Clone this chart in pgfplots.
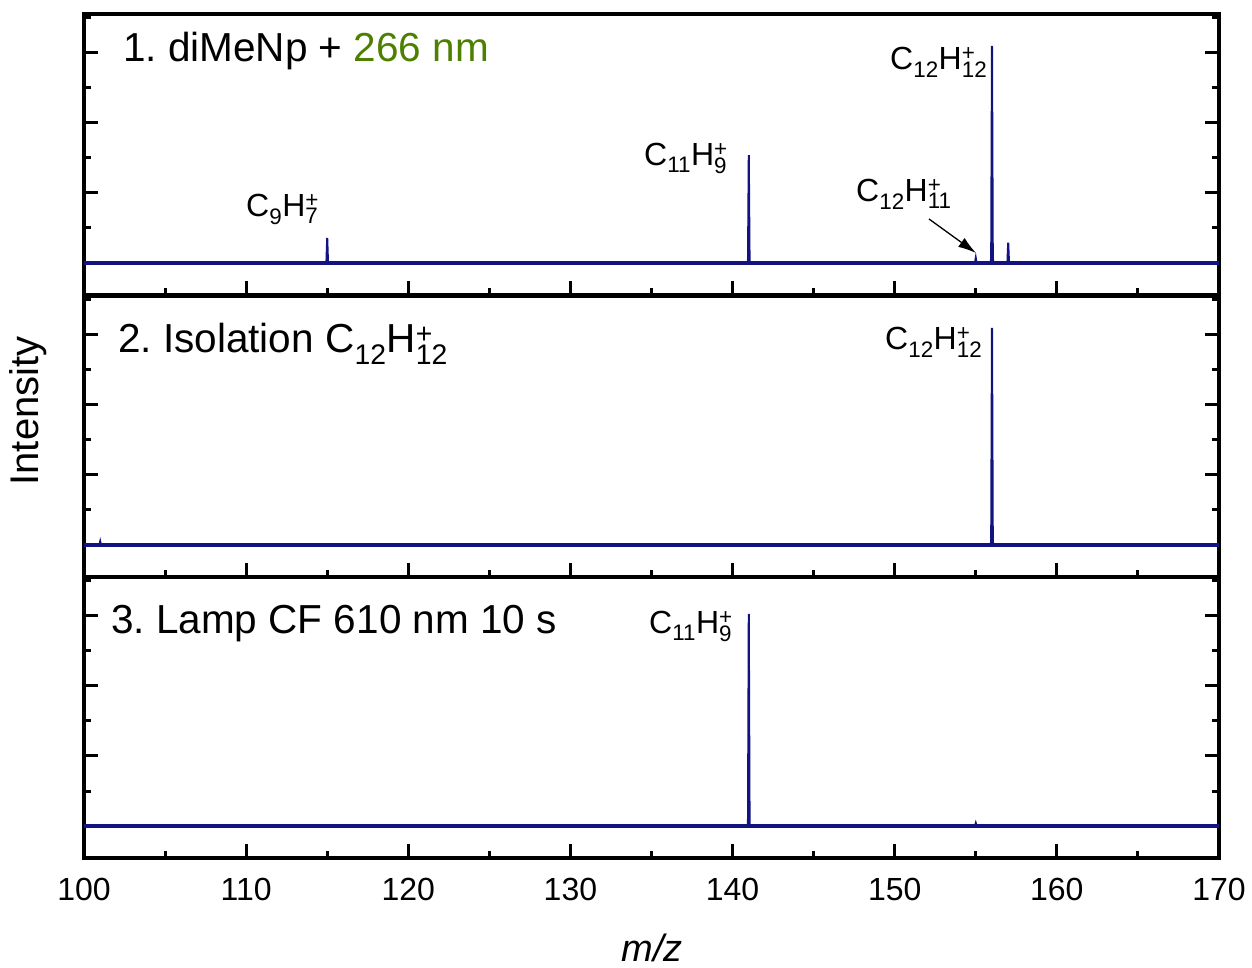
\documentclass[border=0pt]{standalone}
\usepackage{fontspec}
\setmainfont{Liberation Sans}
\usepackage{pgfplots}
\pgfplotsset{compat=1.18}
\usetikzlibrary{arrows.meta}
\frenchspacing
\definecolor{specblue}{RGB}{18,18,128}
\definecolor{grn}{RGB}{77,128,0}
\newcommand{\ionl}[4]{#1\textsubscript{#2}#3\rlap{\textsuperscript{+}}\textsubscript{#4}}
\newcommand{\fs}[1]{\fontsize{#1}{#1}\selectfont}
\pgfplotsset{
  panel/.style={
    scale only axis, width=1135pt, height=281pt,
    xmin=100, xmax=170, ymin=-0.457, ymax=3.557,
    xtick={100,110,...,170}, minor x tick num=1,
    ytick={0,1,2,3}, minor ytick={0.5,1.5,2.5,3.5},
    yticklabels={},
    tick align=inside, xtick pos=left, ytick pos=both,
    major tick length=14pt, minor tick length=7pt,
    major tick style={line width=3pt, black},
    minor tick style={line width=3pt, black},
    axis line style={line width=3.4pt},
    /pgf/number format/assume math mode=true,
    xticklabel style={font=\fs{32}, inner sep=0pt, yshift=-20pt},
    clip=true,
  },
  baseline/.style={color=specblue, line width=3.2pt, mark=none},
  specline/.style={color=specblue, line width=2pt, line join=miter, mark=none},
}
\begin{document}
\begin{tikzpicture}[x=1pt,y=1pt]
\useasboundingbox (0,0) rectangle (1252,968);
% panel 1
\begin{axis}[panel, at={(84pt,673pt)}, anchor=south west, xticklabels={}]
\addplot[baseline] coordinates {(100,0.0) (170,0.0)};
\addplot[specline] coordinates {
(114.95,0.0) (115,0.36) (115.05,0.0) (140.95,0.0) (141,1.54) (141.05,0.0)
(154.95,0.0) (155,0.07) (155.05,0.0) (155.9,0.0) (155.95,0.06) (156,3.1) (156.05,0.06) (156.1,0.0)
(156.95,0.0) (157,0.29) (157.05,0.0)};
\end{axis}
% panel 2
\begin{axis}[panel, at={(84pt,391pt)}, anchor=south west, xticklabels={}]
\addplot[baseline] coordinates {(100,0.0) (170,0.0)};
\addplot[specline] coordinates {
(100.95,0.0) (101,0.05) (101.05,0.0) (155.9,0.0) (155.95,0.05) (156,3.1) (156.05,0.05) (156.1,0.0)};
\end{axis}
% panel 3
\begin{axis}[panel, at={(84pt,110pt)}, anchor=south west]
\addplot[baseline] coordinates {(100,0.0) (170,0.0)};
\addplot[specline] coordinates {
(140.95,0.0) (141,3.03) (141.05,0.0) (154.95,0.0) (155,0.04) (155.05,0.0)};
\end{axis}
% titles
\node[anchor=base west, inner sep=0pt, font=\fs{40.5}] at (123,906) {1. diMeNp + \textcolor{grn}{266 nm}};
\node[anchor=base west, inner sep=0pt, font=\fs{40.5}] at (118,615) {2. Isolation \ionl{C}{12}{H}{12}};
\node[anchor=base west, inner sep=0pt, font=\fs{40.5}] at (111,334) {3. Lamp CF 610 nm 10 s};
% peak labels
\node[anchor=base west, inner sep=0pt, font=\fs{32}] at (246,751) {\ionl{C}{9}{H}{7}};
\node[anchor=base west, inner sep=0pt, font=\fs{32}] at (644,802) {\ionl{C}{11}{H}{9}};
\node[anchor=base west, inner sep=0pt, font=\fs{32}] at (890,898) {\ionl{C}{12}{H}{12}};
\node[anchor=base west, inner sep=0pt, font=\fs{32}] at (856,766) {\ionl{C}{12}{H}{11}};
\node[anchor=base west, inner sep=0pt, font=\fs{32}] at (885,618) {\ionl{C}{12}{H}{12}};
\node[anchor=base west, inner sep=0pt, font=\fs{32}] at (649,334) {\ionl{C}{11}{H}{9}};
\draw[-{Latex[length=18pt,width=11pt]}, line width=1.3pt] (929,749) -- (976,715);
% axis labels
\node[rotate=90, font=\fs{40}, inner sep=0pt] at (28,557) {Intensity};
\node[font=\fs{38}\itshape, inner sep=0pt] at (652,20) {m/z};
\end{tikzpicture}
\end{document}
